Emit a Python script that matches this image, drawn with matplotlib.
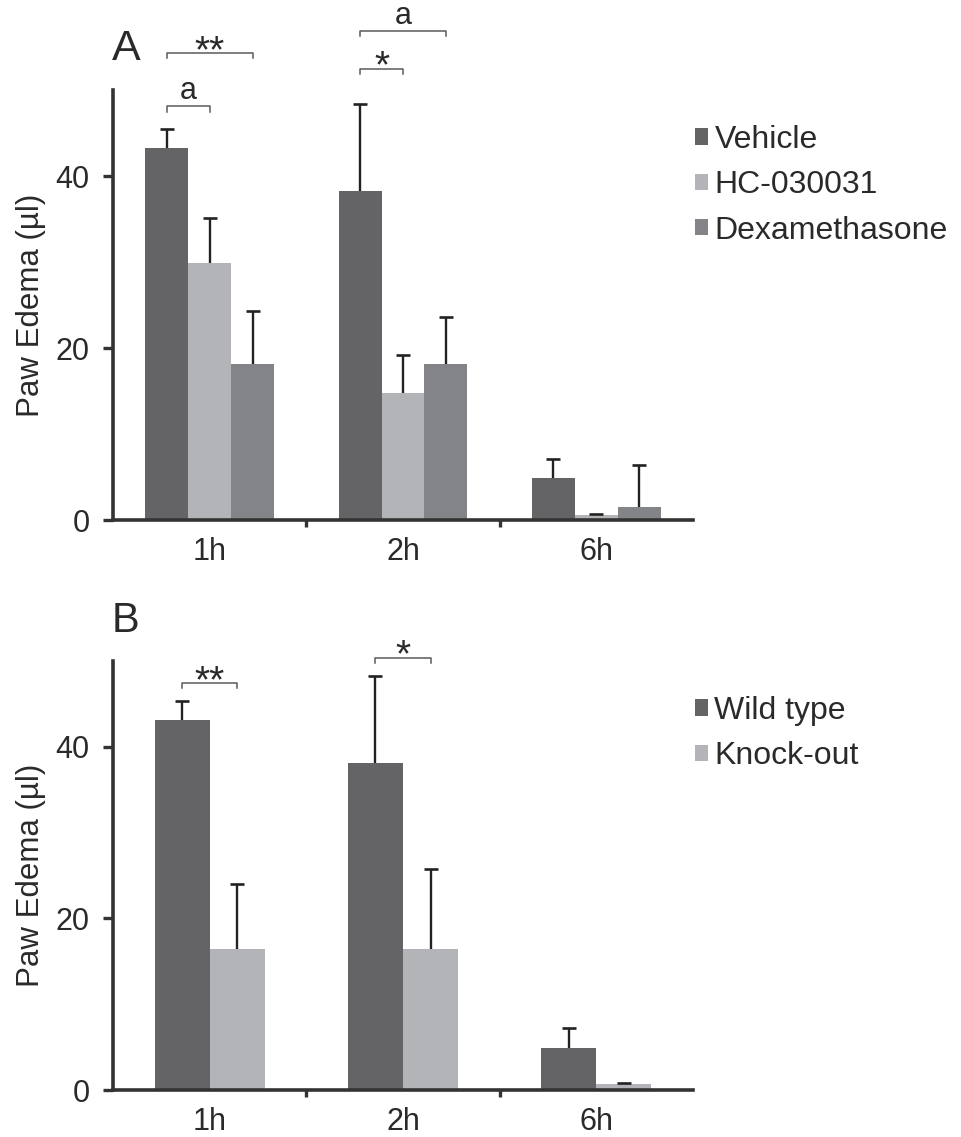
import matplotlib
matplotlib.use("Agg")
import matplotlib.pyplot as plt
import numpy as np
from matplotlib.patches import Patch

plt.rcParams['font.family'] = ['Liberation Sans', 'DejaVu Sans']

# ---------------- data ----------------
timepoints = ["1h", "2h", "6h"]

# Panel A
vehicle = [43.3, 38.3, 4.9]
vehicle_err = [2.2, 10.1, 2.2]
hc030031 = [29.9, 14.8, 0.55]
hc030031_err = [5.2, 4.4, 0.2]
dexamethasone = [18.1, 18.1, 1.5]
dexamethasone_err = [6.2, 5.5, 4.9]
labels_a = ["Vehicle", "HC-030031", "Dexamethasone"]

# Panel B
wild_type = [43.1, 38.1, 4.9]
wild_type_err = [2.2, 10.2, 2.3]
knock_out = [16.4, 16.4, 0.7]
knock_out_err = [7.6, 9.3, 0.15]
labels_b = ["Wild type", "Knock-out"]

yticks = [0, 20, 40]
ylabel = "Paw Edema (µl)"

# significance brackets: (group, bar_i, bar_j, y, text)
sig_a = [(0, 0, 1, 48.1, "a"), (0, 0, 2, 54.3, "**"),
         (1, 0, 1, 52.5, "*"), (1, 0, 2, 56.9, "a")]
sig_b = [(0, 0, 1, 47.4, "**"), (1, 0, 1, 50.4, "*")]

# ---------------- style ----------------
c_dark = "#646466"
c_light = "#b3b4b8"
c_mid = "#838487"
spine_c = "#333333"
text_c = "#2a2a2a"
bracket_c = "#5a5a5a"

W, H = 962, 1137
fig = plt.figure(figsize=(W / 100, H / 100), dpi=100)

def fx(px):
    return px / W

def fy(py):
    return 1 - py / H

ax_a = fig.add_axes([fx(113), fy(520), fx(693) - fx(113), fy(90) - fy(520)])
ax_b = fig.add_axes([fx(113), fy(1090), fx(693) - fx(113), fy(661) - fy(1090)])

def style_axis(ax):
    ax.set_xlim(-0.5, 2.5)
    ax.set_ylim(0, 50)
    for s in ["top", "right"]:
        ax.spines[s].set_visible(False)
    for s in ["left", "bottom"]:
        ax.spines[s].set_linewidth(2.6)
        ax.spines[s].set_color(spine_c)
    ax.set_yticks(yticks)
    ax.set_yticklabels([str(v) for v in yticks])
    ax.tick_params(axis="y", direction="out", length=7, width=2.4, color=spine_c,
                   labelsize=22, labelcolor=text_c, pad=10)
    ax.set_xticks(range(len(timepoints)))
    ax.set_xticklabels(timepoints)
    ax.tick_params(axis="x", which="major", length=0, labelsize=22,
                   labelcolor=text_c, pad=12)
    ax.set_xticks([0.5, 1.5], minor=True)
    ax.tick_params(axis="x", which="minor", direction="out", length=5, width=2.4,
                   color=spine_c)
    ax.set_ylabel(ylabel, fontsize=22.5, color=text_c, labelpad=7)

def draw_bars(ax, series, errs, colors, width):
    n = len(series)
    x = np.arange(len(timepoints))
    centers = []
    for i, (vals, err, col) in enumerate(zip(series, errs, colors)):
        off = (i - (n - 1) / 2) * width
        ax.bar(x + off, vals, width=width, color=col, edgecolor="none", zorder=2)
        eb = ax.errorbar(x + off, vals, yerr=[np.zeros(len(vals)), err], fmt="none",
                         ecolor="#222222", elinewidth=1.7, capsize=4.7, capthick=1.9,
                         zorder=3, clip_on=False)
        # only the upper cap is shown
        caps = eb[1]
        if len(caps) >= 2:
            caps[0].set_visible(False)
        centers.append(x + off)
    return centers

def draw_sig(ax, centers, sigs):
    for (g, i, j, y, txt) in sigs:
        x1 = centers[i][g]
        x2 = centers[j][g]
        leg = 0.6
        ax.plot([x1, x1, x2, x2], [y - leg, y, y, y - leg], color=bracket_c,
                lw=1.1, clip_on=False, zorder=4)
        if "*" in txt:
            ax.text((x1 + x2) / 2, y - 2.0, txt, ha="center", va="bottom",
                    fontsize=28, color=text_c, clip_on=False)
        else:
            ax.text((x1 + x2) / 2, y, txt, ha="center", va="bottom",
                    fontsize=22, color=text_c, clip_on=False)

style_axis(ax_a)
ca = draw_bars(ax_a, [vehicle, hc030031, dexamethasone],
               [vehicle_err, hc030031_err, dexamethasone_err],
               [c_dark, c_light, c_mid], 0.222)
draw_sig(ax_a, ca, sig_a)

style_axis(ax_b)
cb = draw_bars(ax_b, [wild_type, knock_out], [wild_type_err, knock_out_err],
               [c_dark, c_light], 0.285)
draw_sig(ax_b, cb, sig_b)

# legends
leg_kw = dict(loc="upper left", frameon=False, fontsize=23,
              handlelength=0.41, handleheight=0.41, handletextpad=0.2,
              labelspacing=0.48, borderpad=0, borderaxespad=0, labelcolor=text_c)
hand_a = [Patch(facecolor=c, edgecolor="none") for c in [c_dark, c_light, c_mid]]
fig.legend(hand_a, labels_a, bbox_to_anchor=(fx(695), fy(125)), **leg_kw)
hand_b = [Patch(facecolor=c, edgecolor="none") for c in [c_dark, c_light]]
fig.legend(hand_b, labels_b, bbox_to_anchor=(fx(695), fy(696)), **leg_kw)

# panel letters
fig.text(fx(112), fy(60), "A", fontsize=31, color=text_c, ha="left", va="baseline")
fig.text(fx(112), fy(632), "B", fontsize=30, color=text_c, ha="left", va="baseline")

fig.savefig("out.png", dpi=100)
